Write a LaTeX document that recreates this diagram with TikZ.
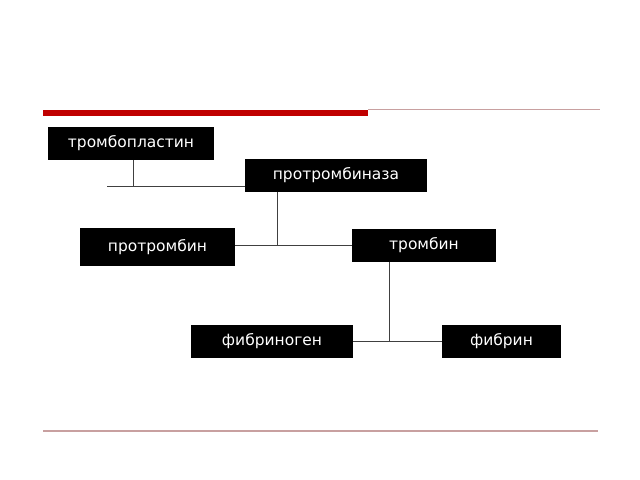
\documentclass[tikz,border=0pt]{standalone}
\usepackage{fontspec}
\setmainfont{DejaVu Sans}
\usetikzlibrary{positioning}
\definecolor{barred}{RGB}{192,0,0}
\definecolor{rulepink}{RGB}{200,160,160}
\newcommand\px{0.025cm}
\tikzset{
  blk/.style = {rectangle, fill=black, text=white, inner sep=0pt,
    font=\fontsize{11}{13}\selectfont, minimum height=33*\px},
  conn/.style = {draw=black!75, line width=0.6pt}
}

\begin{document}
\begin{tikzpicture}[x=\px, y=-\px]
\useasboundingbox (0,0) rectangle (640,480);
% top and bottom rules
\fill[barred] (43,110) rectangle (368,116);
\draw[rulepink, line width=0.5pt] (368,109.5) -- (600,109.5);
\draw[rulepink, line width=1.2pt] (43,431) -- (598,431);
%
\node (tp)  [blk, minimum width=166*\px] at (131,143.5) {тромбопластин};
\node (ptz) [blk, minimum width=182*\px] at (336,175.5) {протромбиназа};
\node (pt)  [blk, minimum width=155*\px, minimum height=38*\px] at (157.5,247) {протромбин};
\node (tr)  [blk, minimum width=144*\px] at (424,245.5) {тромбин};
\node (fg)  [blk, minimum width=162*\px] at (272,341.5) {фибриноген};
\node (fb)  [blk, minimum width=119*\px] at (501.5,341.5) {фибрин};
%
\coordinate (j1) at (107,186);
\coordinate (j2) at (133,186);
\coordinate (j3) at (277,245);
\coordinate (j4) at (389,341.5);
\draw[conn] (tp.south -| j2) -- (j2);
\draw[conn] (j1) -- (j1 -| ptz.west);
\draw[conn] (ptz.south -| j3) -- (j3);
\draw[conn] (pt.east |- j3) -- (j3 -| tr.west);
\draw[conn] (tr.south -| j4) -- (j4);
\draw[conn] (fg.east) -- (fb.west);
\end{tikzpicture}
\end{document}
